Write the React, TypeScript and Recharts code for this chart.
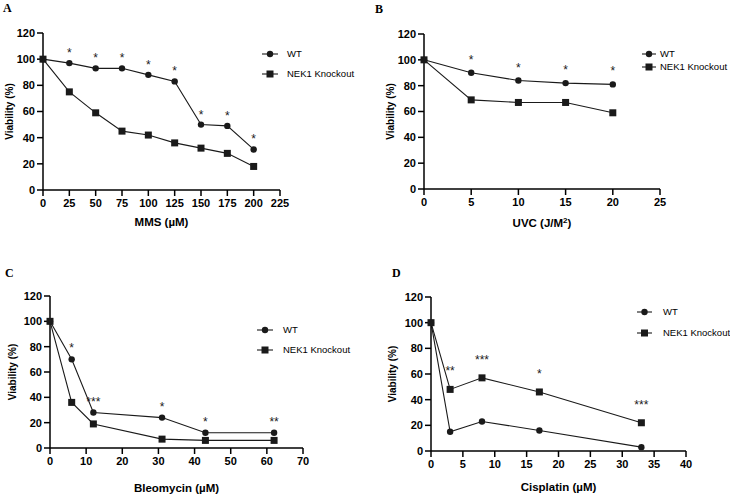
import React from 'react';
import { LineChart, Line, XAxis, YAxis } from 'recharts';

const SANS = '"Liberation Sans", Arial, sans-serif';
const INK = '#1a1a1a';

// Panel A: MMS
const mmsDose = [0, 25, 50, 75, 100, 125, 150, 175, 200];
const mmsWT = [100, 97, 93, 93, 88, 83, 50, 49, 31];
const mmsKO = [100, 75, 59, 45, 42, 36, 32, 28, 18];
const mmsStars = ['', '*', '*', '*', '*', '*', '*', '*', '*'];
const mmsTicks = [0, 25, 50, 75, 100, 125, 150, 175, 200, 225];

// Panel B: UVC
const uvcDose = [0, 5, 10, 15, 20];
const uvcWT = [100, 90, 84, 82, 81];
const uvcKO = [100, 69, 67, 67, 59];
const uvcStars = ['', '*', '*', '*', '*'];
const uvcTicks = [0, 5, 10, 15, 20, 25];

// Panel C: Bleomycin
const bleoDose = [0, 6, 12, 31, 43, 62];
const bleoWT = [100, 70, 28, 24, 12, 12];
const bleoKO = [100, 36, 19, 7, 6, 6];
const bleoStars = ['', '*', '***', '*', '*', '**'];
const bleoTicks = [0, 10, 20, 30, 40, 50, 60, 70];

// Panel D: Cisplatin
const cisDose = [0, 3, 8, 17, 33];
const cisWT = [100, 15, 23, 16, 3];
const cisKO = [100, 48, 57, 46, 22];
const cisStars = ['', '**', '***', '*', '***'];
const cisTicks = [0, 5, 10, 15, 20, 25, 30, 35, 40];

const yTicks = [0, 20, 40, 60, 80, 100, 120];

const toRows = (x: number[], wt: number[], ko: number[]) =>
  x.map((v, i) => ({ x: v, wt: wt[i], ko: ko[i] }));

const Circle = (p: any) =>
  p.cx == null ? null : <circle cx={p.cx} cy={p.cy} r={3.2} fill={INK} />;
const Square = (p: any) =>
  p.cx == null ? null : <rect x={p.cx - 3.5} y={p.cy - 3.5} width={7} height={7} fill={INK} />;

function Panel(props: any) {
  const {
    left, top, width, height, axisX, plotTop, plotRight, xAxisH,
    xTicks, rows, stars, starOn, starDy, xTitle, xTitleDy, yTitleX,
    letter, letterPos, legend,
  } = props;
  const tick = { fontSize: 11, fontWeight: 'bold', fill: '#000', fontFamily: SANS };
  const [lx, ly, gap, lineLen, textGap] = legend;
  const starLabel = (p: any) => (
    <text key={'s' + p.index} x={p.x} y={p.y - starDy} textAnchor="middle"
      fontSize={12} fontFamily={SANS} fill={INK}>
      {stars[p.index]}
    </text>
  );
  return (
    <div style={{ position: 'absolute', left, top, width, height }}>
      <LineChart width={width} height={height} data={rows}
        margin={{ top: plotTop, right: width - plotRight, bottom: 0, left: 0 }}>
        <XAxis type="number" dataKey="x" domain={[0, xTicks[xTicks.length - 1]]}
          ticks={xTicks} interval={0} height={xAxisH} tick={tick}
          tickSize={6} tickMargin={3} stroke="#000" strokeWidth={1.5}
          label={{
            content: (lp: any) => {
              const vb = lp.viewBox;
              return (
                <text x={vb.x + vb.width / 2} y={vb.y + xTitleDy} dy="0.35em"
                  textAnchor="middle" fontSize={11.5} fontWeight="bold" fontFamily={SANS}>
                  {xTitle}
                </text>
              );
            },
          }} />
        <YAxis type="number" domain={[0, 120]} ticks={yTicks} interval={0}
          width={axisX} tick={tick} tickSize={6} tickMargin={2}
          stroke="#000" strokeWidth={1.5}
          label={{
            content: (lp: any) => {
              const vb = lp.viewBox;
              const cy = vb.y + vb.height / 2;
              return (
                <text x={yTitleX} y={cy} dy="0.35em" textAnchor="middle"
                  transform={`rotate(-90 ${yTitleX} ${cy})`}
                  fontSize={10} fontWeight="bold" fontFamily={SANS}>
                  Viability (%)
                </text>
              );
            },
          }} />
        <Line dataKey="wt" stroke={INK} strokeWidth={1.1} dot={<Circle />}
          isAnimationActive={false} label={starOn === 'wt' ? starLabel : false} />
        <Line dataKey="ko" stroke={INK} strokeWidth={1.1} dot={<Square />}
          isAnimationActive={false} label={starOn === 'ko' ? starLabel : false} />
      </LineChart>
      <div style={{ position: 'absolute', left: letterPos[0], top: letterPos[1],
        fontFamily: '"Liberation Serif", serif', fontWeight: 'bold', fontSize: 12, lineHeight: '12px' }}>
        {letter}
      </div>
      <svg style={{ position: 'absolute', left: lx, top: ly - 8, overflow: 'visible' }}
        width={100} height={gap + 16}>
        <line x1={0} x2={lineLen} y1={8} y2={8} stroke={INK} strokeWidth={1.1} />
        <circle cx={lineLen / 2} cy={8} r={3.2} fill={INK} />
        <text x={lineLen + textGap} y={8} dy="0.35em" fontSize={9.5} fontFamily={SANS}>WT</text>
        <line x1={0} x2={lineLen} y1={8 + gap} y2={8 + gap} stroke={INK} strokeWidth={1.1} />
        <rect x={lineLen / 2 - 3.5} y={4.5 + gap} width={7} height={7} fill={INK} />
        <text x={lineLen + textGap} y={8 + gap} dy="0.35em" fontSize={9.5} fontFamily={SANS}>NEK1 Knockout</text>
      </svg>
    </div>
  );
}

export default function App() {
  return (
    <div style={{ position: 'absolute', left: 0, top: 0, width: 730, height: 496, background: '#fff' }}>
      <Panel left={0} top={0} width={365} height={230} axisX={43} plotTop={33} plotRight={280}
        xAxisH={40} xTicks={mmsTicks} rows={toRows(mmsDose, mmsWT, mmsKO)}
        stars={mmsStars} starOn="wt" starDy={6} xTitle="MMS (µM)" xTitleDy={32} yTitleX={9}
        letter="A" letterPos={[3, 2]} legend={[262, 54, 20, 16, 9]} />
      <Panel left={365} top={0} width={365} height={230} axisX={59} plotTop={34} plotRight={295}
        xAxisH={41} xTicks={uvcTicks} rows={toRows(uvcDose, uvcWT, uvcKO)}
        stars={uvcStars} starOn="wt" starDy={9} xTitleDy={34} yTitleX={25}
        xTitle={<>UVC (J/M<tspan baselineShift="super" fontSize={8}>2</tspan>)</>}
        letter="B" letterPos={[10, 3]} legend={[277, 54, 13, 14, 4]} />
      <Panel left={0} top={240} width={365} height={256} axisX={50} plotTop={56} plotRight={303}
        xAxisH={48} xTicks={bleoTicks} rows={toRows(bleoDose, bleoWT, bleoKO)}
        stars={bleoStars} starOn="wt" starDy={7} xTitle="Bleomycin (µM)" xTitleDy={40} yTitleX={12}
        letter="C" letterPos={[5, 27]} legend={[257, 330 - 240, 20, 16, 10]} />
      <Panel left={365} top={240} width={365} height={256} axisX={66} plotTop={57} plotRight={321}
        xAxisH={45} xTicks={cisTicks} rows={toRows(cisDose, cisWT, cisKO)}
        stars={cisStars} starOn="ko" starDy={14} xTitle="Cisplatin (µM)" xTitleDy={36} yTitleX={27}
        letter="D" letterPos={[27, 27]} legend={[272, 312 - 240, 21, 15, 11]} />
    </div>
  );
}
